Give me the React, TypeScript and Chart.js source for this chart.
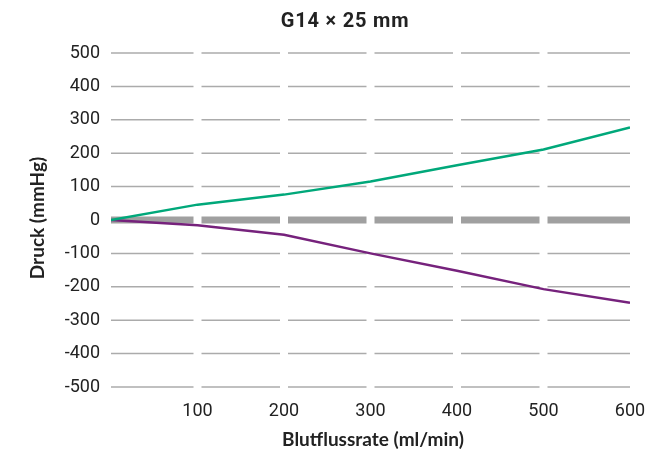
import React, { useEffect, useRef } from "react";
import { Chart, registerables } from "chart.js";

Chart.register(...registerables);

const titleText = "G14 × 25 mm";
const xTitle = "Blutflussrate (ml/min)";
const yTitle = "Druck (mmHg)";
const flowRates = [0, 100, 200, 300, 400, 500, 600];
const greenValues = [0, 46, 76, 115, 164, 211, 277];
const purpleValues = [0, -16, -44, -100, -152, -207, -248];
const xTickValues = [100, 200, 300, 400, 500, 600];
const yTickValues = [500, 400, 300, 200, 100, 0, -100, -200, -300, -400, -500];

const GREEN = "rgb(0,168,122)";
const PURPLE = "rgb(118,34,124)";

const gridPlugin = {
  id: "segGrid",
  beforeDatasetsDraw(chart: any) {
    const { ctx, scales } = chart;
    const xs = scales.x;
    const ys = scales.y;
    const gap = 4;
    ctx.save();
    for (const v of yTickValues) {
      const y = ys.getPixelForValue(v);
      const zero = v === 0;
      ctx.strokeStyle = zero ? "#a0a0a0" : "#ababab";
      ctx.lineWidth = zero ? 7 : 1.5;
      for (let i = 0; i < flowRates.length - 1; i++) {
        const a = xs.getPixelForValue(flowRates[i]) + (i === 0 ? 0 : gap);
        const b = xs.getPixelForValue(flowRates[i + 1]) - (i === flowRates.length - 2 ? 0 : gap);
        ctx.beginPath();
        ctx.moveTo(a, y);
        ctx.lineTo(b, y);
        ctx.stroke();
      }
    }
    ctx.restore();
  },
  afterDraw(chart: any) {
    const { ctx } = chart;
    ctx.save();
    ctx.fillStyle = "#222";
    ctx.textAlign = "center";
    ctx.textBaseline = "middle";
    ctx.font = "bold 20px Roboto";
    (ctx as any).letterSpacing = "0.8px";
    ctx.fillText(titleText, 345, 22);
    (ctx as any).letterSpacing = "0px";
    ctx.font = "bold 19px Lato";
    ctx.fillText(xTitle, 373, 440);
    ctx.translate(38, 218);
    ctx.rotate(-Math.PI / 2);
    ctx.fillText(yTitle, 0, 0);
    ctx.restore();
  },
};

export default function App() {
  const ref = useRef<HTMLCanvasElement>(null);
  useEffect(() => {
    const chart = new Chart(ref.current!, {
      type: "line",
      data: {
        labels: flowRates,
        datasets: [
          {
            data: flowRates.map((x, i) => ({ x, y: greenValues[i] })),
            borderColor: GREEN,
            borderWidth: 2.5,
            pointRadius: 0,
            tension: 0,
          },
          {
            data: flowRates.map((x, i) => ({ x, y: purpleValues[i] })),
            borderColor: PURPLE,
            borderWidth: 2.5,
            pointRadius: 0,
            tension: 0,
          },
        ],
      },
      options: {
        animation: false,
        responsive: false,
        layout: { padding: { top: 53, right: 15, left: 0, bottom: 0 } },
        plugins: { legend: { display: false }, tooltip: { enabled: false }, title: { display: false } },
        scales: {
          x: {
            type: "linear",
            min: 0,
            max: 600,
            afterBuildTicks: (s: any) => {
              s.ticks = xTickValues.map((v) => ({ value: v }));
            },
            afterFit: (s: any) => {
              s.height = 67;
              s.paddingRight = 0;
              s.paddingLeft = 0;
            },
            grid: { display: false, drawTicks: false },
            border: { display: false },
            ticks: { padding: 14, color: "#222", font: { family: "Roboto", size: 18 }, maxRotation: 0 },
          },
          y: {
            min: -500,
            max: 500,
            afterBuildTicks: (s: any) => {
              s.ticks = yTickValues.map((v) => ({ value: v }));
            },
            afterFit: (s: any) => {
              s.width = 111;
              s.paddingTop = 0;
              s.paddingBottom = 0;
            },
            grid: { display: false, drawTicks: false },
            border: { display: false },
            ticks: {
              padding: 11,
              color: "#222",
              font: { family: "Roboto", size: 18 },
              callback: (v: any) => String(v),
            },
          },
        },
      },
      plugins: [gridPlugin],
    } as any);
    return () => chart.destroy();
  }, []);
  return (
    <div style={{ position: "absolute", left: 0, top: 0, width: 645, height: 454, background: "#fff" }}>
      <canvas ref={ref} width={645} height={454} />
    </div>
  );
}
